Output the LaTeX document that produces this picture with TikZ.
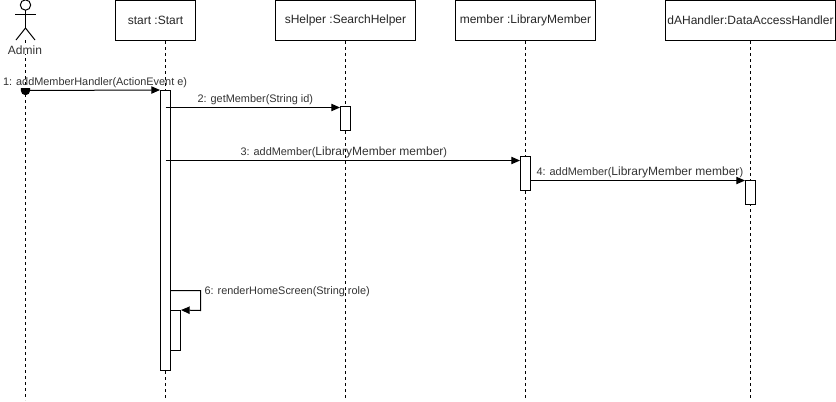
\documentclass[tikz,border=0pt]{standalone}
\usepackage{fontspec}
\setmainfont{Liberation Sans}
\usetikzlibrary{arrows.meta,positioning}
\newcommand{\smalltxt}{\fontsize{8.18pt}{10pt}\selectfont}
\newcommand{\bigtxt}{\fontsize{9pt}{11pt}\selectfont}
\tikzset{
  x=0.75pt,y=-0.75pt,
  every path/.style={line width=0.75pt},
  lifebox/.style={draw,fill=white,minimum width=105pt,minimum height=30pt,inner sep=0pt,font=\bigtxt,text=black!85},
  actbar/.style={draw,fill=white,minimum width=7.5pt,inner sep=0pt},
  lifeline/.style={dash pattern=on 2.25pt off 2.25pt},
  msg/.style={-{Triangle[length=6.5pt,width=5.5pt]}},
  lbl/.style={inner sep=0pt,font=\smalltxt,text=black!80,anchor=base west},
}
\begin{document}
\begin{tikzpicture}
\useasboundingbox (0,0) rectangle (836,401);
% lifeline ends
\coordinate (topA) at (25.5,40);
\coordinate (endA) at (25.5,400);
\coordinate (endS) at (165.5,400);
\coordinate (endH) at (345.5,400);
\coordinate (endM) at (525.5,400);
\coordinate (endD) at (750.5,400);
% boxes
\node[lifebox,minimum width=60pt] (start) at (155.5,20.5) {start :Start};
\node[lifebox] (shelper) at (345.5,20.5) {sHelper :SearchHelper};
\node[lifebox] (member) at (525.5,20.5) {member :LibraryMember};
\node[lifebox,minimum width=127.5pt] (dah) at (750.5,20.5) {dAHandler:DataAccessHandler};
% lifelines
\draw[lifeline] (topA) -- (endA);
\draw[lifeline] (endS |- start.south) -- (endS);
\draw[lifeline] (shelper.south) -- (endH);
\draw[lifeline] (member.south) -- (endM);
\draw[lifeline] (dah.south) -- (endD);
% actor
\coordinate (head) at (25.5,5);
\draw (head) circle[radius=5.2];
\coordinate (neck) at (25.5,10);
\coordinate (hip) at (25.5,28);
\coordinate (armL) at (15,14.5);
\coordinate (armR) at (36,14.5);
\coordinate (legL) at (16,40);
\coordinate (legR) at (35,40);
\draw (neck) -- (hip);
\draw (armL) -- (armR);
\draw (legL) -- (hip) -- (legR);
\node[font=\bigtxt,text=black!80,inner sep=0pt,fill=white] (admin) at (25,50) {Admin};
% activations
\node[actbar,minimum height=210pt] (a1) at (165.5,230.5) {};
\node[actbar,minimum height=18pt] (a2) at (345.5,118.5) {};
\node[actbar,minimum height=25.5pt] (a3) at (525.5,173.5) {};
\node[actbar,minimum height=18pt] (a4) at (750.5,192.5) {};
\node[actbar,minimum height=30pt] (a6) at (175.5,330.5) {};
% messages
\coordinate (m1s) at (25.5,90.5);
\fill (m1s) ++(-4.7,-2.5) -- ++(9.4,0) -- ++(0,2.5) arc[start angle=0,end angle=180,radius=4.7] -- cycle;
\draw[msg] (m1s) -- (a1.north west);
\coordinate (m2s) at (165.5,107.5);
\draw[msg] (m2s) -- (m2s -| a2.west);
\coordinate (m3s) at (165.5,160.5);
\draw[msg] (m3s) -- (m3s -| a3.west);
\coordinate (m4s) at (530.5,180.5);
\draw[msg] (m4s) -- (m4s -| a4.west);
\coordinate (m6a) at (170,290.5);
\coordinate (m6b) at (200.5,290.5);
\coordinate (m6c) at (200.5,310.5);
\draw[msg] (m6a) -- (m6b) -- (m6c) -- (a6.north east);
\coordinate (m6t) at (170,300.5);
\draw (m6a) -- (m6t);
% labels
\node[lbl] (l1) at (2.5,85) {1: addMemberHandler(ActionEvent e)};
\node[lbl] (l2) at (197,102) {2: getMember(String id)};
\node[lbl] (l3) at (240,155) {3: addMember({\bigtxt LibraryMember member})};
\node[lbl] (l4) at (536,175) {4: addMember({\bigtxt LibraryMember member})};
\node[lbl] (l6) at (204,294) {6: renderHomeScreen(String role)};
\end{tikzpicture}
\end{document}
